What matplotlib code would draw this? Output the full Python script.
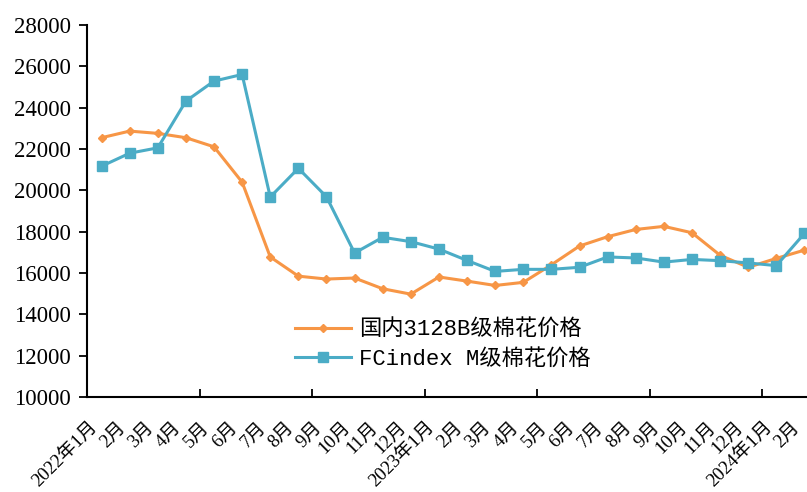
import matplotlib
matplotlib.use("Agg")
import matplotlib.pyplot as plt
import matplotlib.transforms as mtransforms
from matplotlib.ticker import FixedLocator

plt.rcParams['font.family'] = ['Liberation Serif', 'Noto Sans CJK SC']

months = ["2022年1月", "2月", "3月", "4月", "5月", "6月", "7月", "8月", "9月", "10月", "11月", "12月",
          "2023年1月", "2月", "3月", "4月", "5月", "6月", "7月", "8月", "9月", "10月", "11月", "12月",
          "2024年1月", "2月"]
domestic = [22550, 22870, 22760, 22550, 22110, 20400, 16780, 15850, 15710, 15760, 15240, 14980,
            15810, 15610, 15400, 15550, 16400, 17310, 17760, 18110, 18260, 17950, 16860, 16280,
            16710, 17110]
fcindex = [21170, 21800, 22060, 24320, 25290, 25610, 19680, 21070, 19690, 16970, 17730, 17520,
           17160, 16610, 16080, 16180, 16180, 16280, 16780, 16730, 16530, 16660, 16600, 16490,
           16360, 17920]
labels = ["国内3128B级棉花价格", "FCindex M级棉花价格"]

fig = plt.figure(figsize=(8.07, 4.92), dpi=100)
ax = fig.add_axes([0.1084, 0.193, 0.8916, 0.756])

x = range(len(months))
ax.plot(x, domestic, color='#F79646', lw=2.2, marker='D', ms=4.5, label=labels[0], clip_on=False)
ax.plot(x, fcindex, color='#4BACC6', lw=2.2, marker='s', ms=6.5, label=labels[1], clip_on=False)

ax.set_ylim(10000, 28000)
ax.set_yticks(range(10000, 28001, 2000))
ax.set_xlim(-0.5, 25.09)
ax.xaxis.set_major_locator(FixedLocator([3.5, 7.5, 11.5, 15.5, 19.5, 23.5]))
ax.xaxis.set_minor_locator(FixedLocator(list(x)))
ax.set_xticklabels([], minor=False)
ax.set_xticklabels(months, minor=True, rotation=45, ha='right', va='center',
                   rotation_mode='anchor', fontsize=13.5)
ax.tick_params(axis='x', which='minor', length=0, pad=20)
ax.tick_params(axis='x', which='major', direction='in', length=6, width=1.3)
ax.tick_params(axis='y', direction='out', length=6, width=1.3, labelsize=16.5, pad=6)

# nudge the rotated labels a bit left so the last one stays inside the figure
shift = mtransforms.ScaledTranslation(-0.07, 0, fig.dpi_scale_trans)
for lab in ax.get_xticklabels(minor=True):
    lab.set_transform(lab.get_transform() + shift)

for s in ['top', 'right']:
    ax.spines[s].set_visible(False)
for s in ['left', 'bottom']:
    ax.spines[s].set_linewidth(1.5)

ax.legend(loc='upper left', bbox_to_anchor=(0.3656, 0.350), bbox_transform=fig.transFigure,
          frameon=False, borderpad=0, borderaxespad=0,
          prop={'family': ['Liberation Mono', 'Noto Sans CJK SC'], 'size': 16},
          handlelength=2.5, labelspacing=0.35, handletextpad=0.4)

fig.savefig("out.png", dpi=100)
